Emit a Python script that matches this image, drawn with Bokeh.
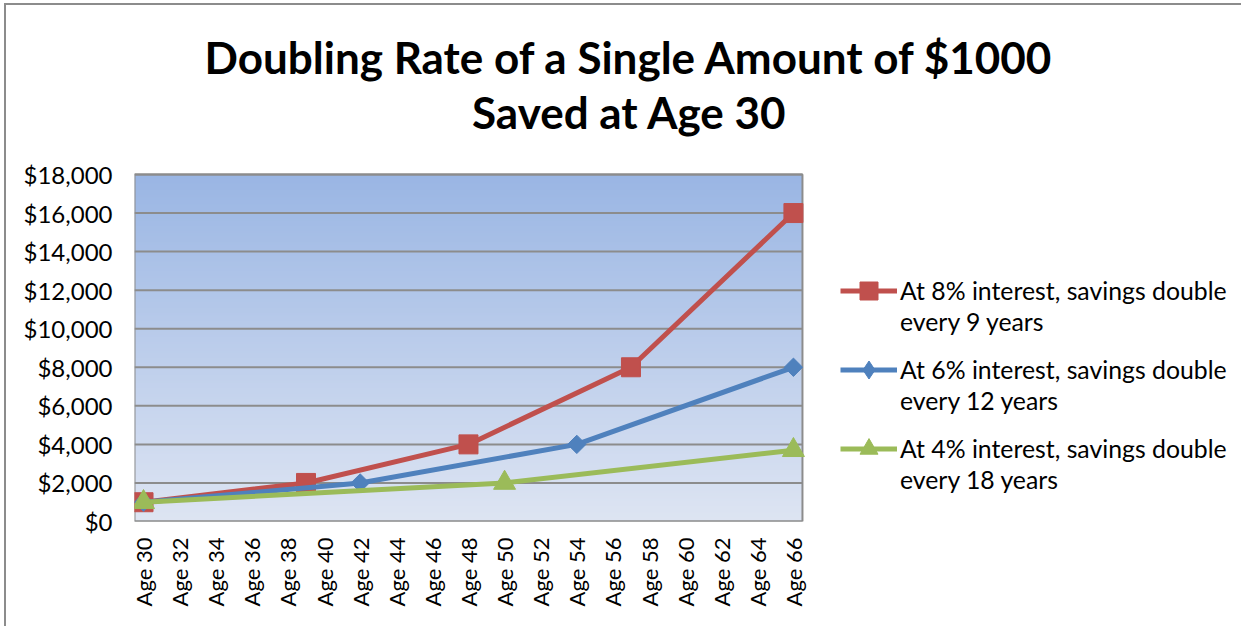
import numpy as np
from bokeh.plotting import figure
from bokeh.models import FixedTicker, NumeralTickFormatter, Legend, LegendItem, Label
from bokeh.embed import file_html
from bokeh.resources import INLINE

# ---- data ----
x_ticks = [30, 32, 34, 36, 38, 40, 42, 44, 46, 48, 50, 52, 54, 56, 58, 60, 62, 64, 66]
x_tick_labels = ["Age 30", "Age 32", "Age 34", "Age 36", "Age 38", "Age 40", "Age 42",
                 "Age 44", "Age 46", "Age 48", "Age 50", "Age 52", "Age 54", "Age 56",
                 "Age 58", "Age 60", "Age 62", "Age 64", "Age 66"]
y_ticks = [0, 2000, 4000, 6000, 8000, 10000, 12000, 14000, 16000, 18000]

ages_8 = [30, 39, 48, 57, 66]
vals_8 = [1000, 2000, 4000, 8000, 16000]
ages_6 = [30, 42, 54, 66]
vals_6 = [1000, 2000, 4000, 8000]
ages_4 = [30, 50, 66]
vals_4 = [1000, 2000, 3700]

legend_line1 = ["At 8% interest, savings double",
                "At 6% interest, savings double",
                "At 4% interest, savings double"]
legend_line2 = ["every 9 years", "every 12 years", "every 18 years"]
title_lines = ["Doubling Rate of a Single Amount of $1000", "Saved at Age 30"]

# plot-area extent (category axis padded by half a step) and full canvas range
X_LO, X_HI = 29.5, 66.5
Y_LO, Y_HI = 0, 18000
FONT = "Lato"
GRAY = "#8c8c8c"

p = figure(width=1237, height=623, x_range=(X_LO, 90.93), y_range=(Y_LO, 26767),
           output_backend="svg", toolbar_location=None,
           min_border_left=128, min_border_right=0, min_border_top=0,
           min_border_bottom=107)
p.styles = {"border-top": "2px solid " + GRAY, "border-left": "2px solid " + GRAY,
            "margin-top": "3px", "margin-left": "4px"}
p.outline_line_color = None
p.xgrid.visible = False
p.ygrid.visible = False

# plot-area gradient background
n = 200
top = np.array([154, 182, 228], dtype=float)
bot = np.array([222, 229, 243], dtype=float)
t = np.linspace(0, 1, n)[:, None]
cols = bot * (1 - t) + top * t
img = np.zeros((n, 1), dtype=np.uint32)
view = img.view(dtype=np.uint8).reshape((n, 1, 4))
view[:, 0, 0] = cols[:, 0].astype(np.uint8)
view[:, 0, 1] = cols[:, 1].astype(np.uint8)
view[:, 0, 2] = cols[:, 2].astype(np.uint8)
view[:, 0, 3] = 255
p.image_rgba(image=[img], x=X_LO, y=Y_LO, dw=X_HI - X_LO, dh=Y_HI - Y_LO)

# horizontal gridlines and plot-area border
p.segment(x0=[X_LO] * len(y_ticks), x1=[X_HI] * len(y_ticks), y0=y_ticks, y1=y_ticks,
          line_color=GRAY, line_width=2)
p.quad(left=[X_LO], right=[X_HI], bottom=[Y_LO], top=[Y_HI], fill_color=None,
       line_color=GRAY, line_width=2)

# title
for i, txt in enumerate(title_lines):
    p.add_layout(Label(x=495, y=465 - 55 * i, x_units="screen", y_units="screen",
                       text=txt, text_align="center", text_baseline="alphabetic",
                       text_font=FONT, text_font_size="44px", text_font_style="bold",
                       text_color="black"))

p.yaxis.ticker = FixedTicker(ticks=y_ticks)
p.yaxis.formatter = NumeralTickFormatter(format="$0,0")
p.xaxis.ticker = FixedTicker(ticks=x_ticks)
p.xaxis.major_label_overrides = {k: v for k, v in zip(x_ticks, x_tick_labels)}
p.xaxis.major_label_orientation = np.pi / 2
for ax in (p.xaxis, p.yaxis):
    ax.major_label_text_font = FONT
    ax.major_label_text_color = "black"
    ax.major_tick_line_color = None
    ax.major_tick_out = 0
    ax.major_tick_in = 0
    ax.minor_tick_line_color = None
    ax.axis_line_color = None
p.yaxis.major_label_text_font_size = "24px"
p.xaxis.major_label_text_font_size = "22px"
p.yaxis.major_label_standoff = 22
p.xaxis.major_label_standoff = 16

red, blue, green = "#C0504D", "#4F81BD", "#9BBB59"
l8 = p.line(ages_8, vals_8, line_color=red, line_width=5)
m8 = p.scatter(ages_8, vals_8, marker="square", size=19, fill_color=red, line_color=red)
l6 = p.line(ages_6, vals_6, line_color=blue, line_width=5)
m6 = p.scatter(ages_6, vals_6, marker="square", angle=np.pi / 4, size=13,
               fill_color=blue, line_color=blue)
l4 = p.line(ages_4, vals_4, line_color=green, line_width=5)
m4 = p.scatter(ages_4, vals_4, marker="triangle", size=22, fill_color=green, line_color=green)
# legend-only key glyphs (no data)
k6 = p.scatter([np.nan], [np.nan], marker="diamond", fill_color=blue, line_color=blue)
blank = p.line([np.nan], [np.nan], line_alpha=0)

common = dict(margin=0, padding=0, glyph_width=57, label_standoff=3,
              label_text_font=FONT, label_text_font_size="24.8px",
              label_text_color="black", label_text_baseline="middle",
              border_line_color=None, background_fill_alpha=0)
first = [(legend_line1[0], [l8, m8], 208.5),
         (legend_line1[1], [l6, k6], 129.5),
         (legend_line1[2], [l4, m4], 50.5)]
for txt, rends, vy in first:
    p.add_layout(Legend(items=[LegendItem(label=txt, renderers=rends)],
                        location=(706, vy), glyph_height=45, label_height=45, **common))
p.add_layout(Legend(items=[LegendItem(label=s, renderers=[blank]) for s in legend_line2],
                    location=(706, 26.5), glyph_height=20, label_height=31, spacing=48,
                    **common))

open("out.html", "w").write(file_html(p, INLINE))
